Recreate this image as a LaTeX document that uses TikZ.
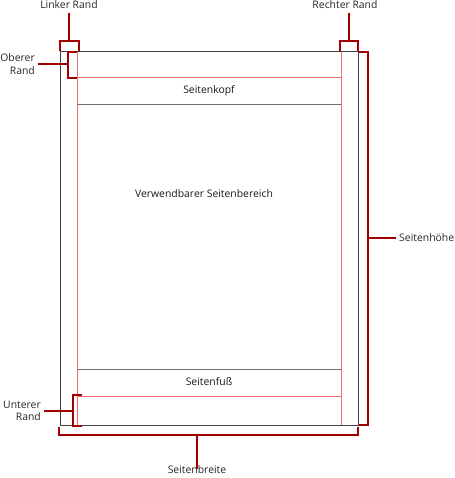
\documentclass[tikz,border=0pt]{standalone}
\usepackage{fontspec}
\setmainfont{Open Sans}
\definecolor{frame}{HTML}{404040}
\definecolor{margin}{HTML}{F07070}
\definecolor{sep}{HTML}{707070}
\definecolor{brk}{HTML}{A00000}
\begin{document}
\begin{tikzpicture}[x=1pt,y=-1pt,
  pageframe/.style={draw=frame,line width=1pt},
  marginline/.style={draw=margin,line width=0.8pt},
  sepline/.style={draw=sep,line width=0.8pt},
  bracket/.style={draw=brk,line width=2pt},
  lbl/.style={font=\fontsize{10.4}{12.5}\selectfont,text=black!85,inner sep=0pt,align=center},
  area/.style={font=\fontsize{10.4}{12.5}\selectfont,text=black!90,inner sep=0pt}]
\useasboundingbox (0,0) rectangle (454,478);
% page
\draw[pageframe] (60,52) rectangle (358,425);
\draw[marginline] (77,52) -- (77,425);
\draw[marginline] (341,52) -- (341,425);
\draw[marginline] (77,77) -- (341,77);
\draw[marginline] (77,396) -- (341,396);
\draw[sepline] (77,104) -- (341,104);
\draw[sepline] (77,369) -- (341,369);
\node[area] (kopf) at (209,91) {Seitenkopf};
\node[area] (body) at (204,194) {Verwendbarer Seitenbereich};
\node[area] (fuss) at (209,382) {Seitenfuß};
% labels
\node[lbl] (linker) at (69,5) {Linker Rand};
\node[lbl] (rechter) at (345,5) {Rechter Rand};
\node[lbl,align=right,anchor=east] (oberer) at (35,64) {Oberer\\Rand};
\node[lbl,align=right,anchor=east] (unterer) at (41,411) {Unterer\\Rand};
\node[lbl] (breite) at (197,470) {Seitenbreite};
\node[lbl,anchor=west] (hoehe) at (399,238) {Seitenhöhe};
% brackets
\coordinate (lb) at (69,41);
\draw[bracket,line cap=rect] (60,50) -- (60,41) -- (79,41) -- (79,50);
\draw[bracket] (lb) -- (69,13);
\coordinate (rb) at (349,41);
\draw[bracket,line cap=rect] (340,50) -- (340,41) -- (358,41) -- (358,50);
\draw[bracket] (rb) -- (349,13);
\coordinate (ob) at (68,64);
\draw[bracket,line cap=rect] (76,52) -- (68,52) -- (68,78) -- (76,78);
\draw[bracket] (ob) -- ([xshift=3pt]oberer.east);
\coordinate (ub) at (73,411);
\draw[bracket,line cap=rect] (81,395) -- (73,395) -- (73,426) -- (81,426);
\draw[bracket] (ub) -- ([xshift=3pt]unterer.east);
\coordinate (bb) at (197,435);
\draw[bracket,line cap=rect] (59,428) -- (59,435) -- (358,435) -- (358,428);
\draw[bracket] (bb) -- ([yshift=-3pt]breite.north);
\coordinate (hb) at (368,238);
\draw[bracket,line cap=rect] (360,52) -- (368,52) -- (368,425) -- (360,425);
\draw[bracket] (hb) -- ([xshift=-3pt]hoehe.west);
\end{tikzpicture}
\end{document}
